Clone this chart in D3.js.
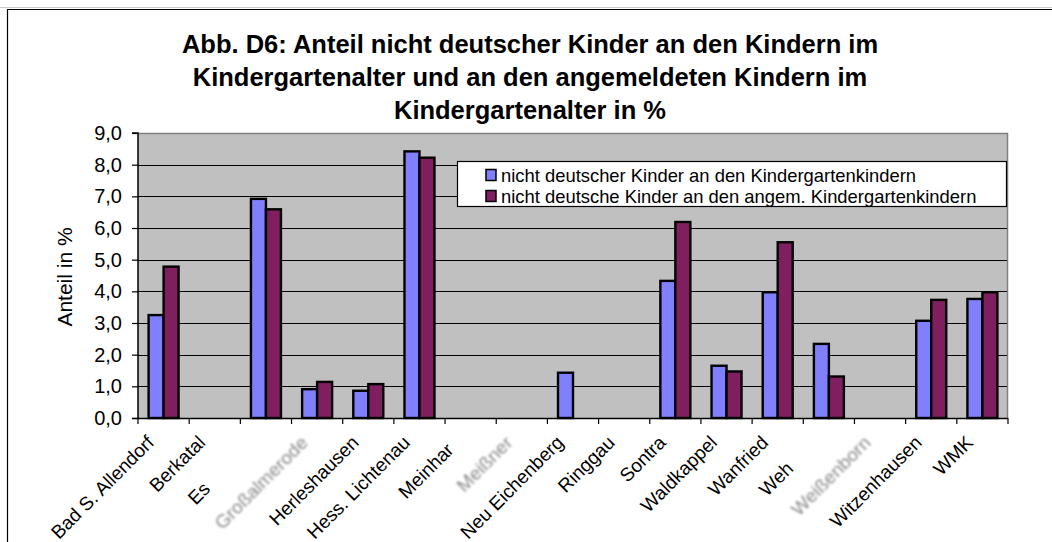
<!DOCTYPE html>
<html><head><meta charset="utf-8">
<script src="https://cdn.jsdelivr.net/npm/d3@7"></script>
<style>body{margin:0;background:#fff}svg{display:block}text{font-family:"Liberation Sans",Arial,sans-serif}</style>
</head><body><svg id="c" width="1052" height="542"></svg>
<script>
const categories = ["Bad S. Allendorf","Berkatal","Eschwege","Großalmerode","Herleshausen","Hess. Lichtenau","Meinhard","Meißner","Neu Eichenberg","Ringgau","Sontra","Waldkappel","Wanfried","Wehretal","Weißenborn","Witzenhausen","WMK"];
// visible (truncated) label text as shown in the original
const shownLabels = ["Bad S. Allendorf","Berkatal","Es","Großalmerode","Herleshausen","Hess. Lichtenau","Meinhar","Meißner","Neu Eichenberg","Ringgau","Sontra","Waldkappel","Wanfried","Weh","Weißenborn","Witzenhausen","WMK"];
const blurredLabels = ["Großalmerode","Meißner","Weißenborn"];
const seriesNames = ["nicht deutscher Kinder an den Kindergartenkindern","nicht deutsche Kinder an den angem. Kindergartenkindern"];
const seriesA = [3.25,null,6.92,0.91,0.86,8.42,null,null,1.43,null,4.33,1.65,3.97,2.34,null,3.07,3.76];
const seriesB = [4.78,null,6.59,1.14,1.07,8.22,null,null,null,null,6.19,1.47,5.55,1.31,null,3.73,3.97];
const yTicks = [0,1,2,3,4,5,6,7,8,9];
const titleLines = ["Abb. D6: Anteil nicht deutscher Kinder an den Kindern im","Kindergartenalter und an den angemeldeten Kindern im","Kindergartenalter in %"];
const yTitle = "Anteil in %";
const colors = ["#8080FF","#801F60"];

const svg = d3.select("#c");
const defs = svg.append("defs");
defs.append("filter").attr("id","blur").append("feGaussianBlur").attr("stdDeviation",1.3);

// outer frame
svg.append("line").attr("x1",0).attr("x2",1052).attr("y1",7.5).attr("y2",7.5).attr("stroke","#c8c8c8");
svg.append("path").attr("d","M7.5,542 V9.5 H1052").attr("fill","none").attr("stroke","#000").attr("stroke-width",1.2);

const L=138, R=1008, T=133, B=418;
const x0 = d3.scaleBand().domain(categories).range([L,R]).padding(0);
const bw = x0.bandwidth();
const x1 = d3.scaleBand().domain([0,1]).range([bw*0.207, bw*0.793]).padding(0);
const y = d3.scaleLinear().domain([0,9]).range([B,T]);

// plot area
svg.append("rect").attr("x",L).attr("y",T).attr("width",R-L).attr("height",B-T).attr("fill","#C0C0C0");
svg.append("path").attr("d",`M${L},${T+0.5} H${R-0.5} V${B}`).attr("fill","none").attr("stroke","#808080").attr("stroke-width",1.5);
// gridlines
svg.append("g").selectAll("line").data(yTicks.filter(d=>d>0 && d<9)).join("line")
  .attr("x1",L).attr("x2",R-1).attr("y1",d=>Math.round(y(d))+0.5).attr("y2",d=>Math.round(y(d))+0.5)
  .attr("stroke","#000").attr("stroke-width",1.2);

// bars
const series = [seriesA, seriesB];
const g = svg.append("g");
series.forEach((s,si)=>{
  g.selectAll(null).data(categories.map((c,i)=>({c,v:s[i]})).filter(d=>d.v!=null)).join("rect")
    .attr("x",d=>x0(d.c)+x1(si)).attr("width",x1.bandwidth())
    .attr("y",d=>y(d.v)).attr("height",d=>B-y(d.v))
    .attr("fill",colors[si]).attr("stroke","#000").attr("stroke-width",2.4);
});

// y axis
const yAxis = d3.axisLeft(y).tickValues(yTicks).tickSize(6).tickFormat(d=>d3.format(".1f")(d).replace(".",","));
const ya = svg.append("g").attr("transform",`translate(${L},0)`).call(yAxis);
ya.select(".domain").attr("stroke","#000").attr("stroke-width",1.5).attr("d",`M-6,${T}H0V${B}`);
ya.selectAll(".tick line").attr("stroke","#000").attr("stroke-width",1.2);
ya.selectAll(".tick text").attr("font-size",20).attr("fill","#000").attr("x",-16).attr("font-family","Liberation Sans, Arial, sans-serif");

// x axis
svg.append("line").attr("x1",L-6).attr("x2",R).attr("y1",B+0.5).attr("y2",B+0.5).attr("stroke","#000").attr("stroke-width",1.5);
const bounds = categories.map(c=>x0(c)).concat([R]);
svg.append("g").selectAll("line").data(bounds).join("line")
  .attr("x1",d=>d).attr("x2",d=>d).attr("y1",B).attr("y2",B+6).attr("stroke","#000").attr("stroke-width",1.2);

// x labels
const lg = svg.append("g");
categories.forEach((c,i)=>{
  const cx = x0(c)+bw/2;
  const t = lg.append("text").attr("transform",`translate(${cx-18},${B+16}) rotate(-45)`)
    .attr("font-size",19).attr("dy","0.72em").attr("text-anchor","end").text(c);
  if (shownLabels[i] !== c) {
    const full = t.node().getComputedTextLength();
    t.attr("text-anchor","start").attr("x",-full).text(shownLabels[i]);
  }
  if (blurredLabels.includes(c)) t.attr("fill","#8a8a8a").attr("filter","url(#blur)");
});

// y title
svg.append("text").attr("transform","translate(72,277) rotate(-90)").attr("text-anchor","middle")
  .attr("font-size",21).text(yTitle);

// title
svg.append("g").selectAll("text").data(titleLines).join("text")
  .attr("x",530).attr("y",(d,i)=>53+i*33).attr("text-anchor","middle")
  .attr("font-size",25.5).attr("font-weight","bold").text(d=>d);

// legend
const leg = svg.append("g");
leg.append("rect").attr("x",457.5).attr("y",161.5).attr("width",549).attr("height",45).attr("fill","#fff").attr("stroke","#000").attr("stroke-width",1.2);
seriesNames.forEach((n,i)=>{
  const cy = 175+i*21;
  leg.append("rect").attr("x",486).attr("y",cy-5.5).attr("width",10).attr("height",11).attr("fill",colors[i]).attr("stroke","#000").attr("stroke-width",1.5);
  leg.append("text").attr("x",501).attr("y",cy).attr("dy","0.36em").attr("font-size",18.4).text(n);
});
</script></body></html>
